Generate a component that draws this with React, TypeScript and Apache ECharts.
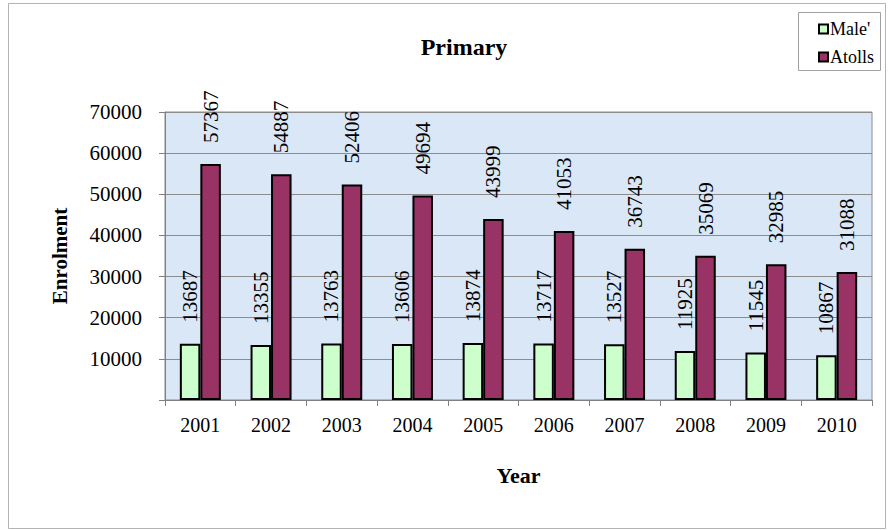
import React, { useEffect, useRef } from "react";
import * as echarts from "echarts";

const years = ["2001", "2002", "2003", "2004", "2005", "2006", "2007", "2008", "2009", "2010"];
const maleValues = [13687, 13355, 13763, 13606, 13874, 13717, 13527, 11925, 11545, 10867];
const atollsValues = [57367, 54887, 52406, 49694, 43999, 41053, 36743, 35069, 32985, 31088];
const seriesNames = ["Male'", "Atolls"];

const FONT = "Liberation Serif";

export default function App() {
  const ref = useRef<HTMLDivElement>(null);
  useEffect(() => {
    document.body.style.margin = "0";
    const chart = echarts.init(ref.current!, undefined, { renderer: "svg" });
    const label = {
      show: true,
      position: "top" as const,
      rotate: 90,
      align: "left" as const,
      verticalAlign: "middle" as const,
      distance: 21,
      fontFamily: FONT,
      fontSize: 21,
      color: "#000",
    };
    chart.setOption({
      animation: false,
      backgroundColor: "#fff",
      textStyle: { fontFamily: FONT },
      title: {
        text: "Primary",
        left: 459,
        top: 30,
        textAlign: "center",
        textStyle: { fontFamily: FONT, fontSize: 24, fontWeight: "bold", color: "#000" },
      },
      graphic: [
        {
          type: "rect",
          shape: { x: 8.5, y: 3.5, width: 877, height: 525 },
          style: { fill: "none", stroke: "#b4b4b4", lineWidth: 1 },
          silent: true,
          z: -10,
        },
        {
          type: "rect",
          shape: { x: 798.5, y: 12.5, width: 82, height: 58 },
          style: { fill: "#fff", stroke: "#a0a0a0", lineWidth: 1 },
          silent: true,
          z: 0,
        },
      ],
      legend: {
        orient: "vertical",
        left: 813,
        top: 15,
        itemWidth: 9,
        itemHeight: 9,
        itemGap: 10,
        icon: "rect",
        data: seriesNames,
        textStyle: {
          fontFamily: FONT,
          fontSize: 18,
          color: "#000",
          padding: [0, 0, 0, -3],
        },
        z: 5,
      },
      grid: {
        left: 165,
        right: 16,
        top: 112,
        bottom: 130,
        show: true,
        backgroundColor: "#dae7f6",
        borderColor: "#8c8c8c",
        borderWidth: 1,
      },
      xAxis: {
        type: "category",
        data: years,
        name: "Year",
        nameLocation: "middle",
        nameGap: 64,
        nameTextStyle: { fontFamily: FONT, fontSize: 22, fontWeight: "bold", color: "#000" },
        axisLine: { lineStyle: { color: "#808080", width: 1 } },
        axisTick: { show: true, length: 6, lineStyle: { color: "#808080" } },
        axisLabel: { fontFamily: FONT, fontSize: 20, color: "#000", margin: 15 },
      },
      yAxis: {
        type: "value",
        min: 0,
        max: 70000,
        interval: 10000,
        name: "Enrolment",
        nameLocation: "middle",
        nameGap: 95,
        nameTextStyle: { fontFamily: FONT, fontSize: 21, fontWeight: "bold", color: "#000" },
        axisLine: { show: true, lineStyle: { color: "#808080", width: 1 } },
        axisTick: { show: true, length: 6, lineStyle: { color: "#808080" } },
        axisLabel: {
          fontFamily: FONT,
          fontSize: 21,
          color: "#000",
          margin: 23,
          formatter: (v: number) => (v === 0 ? "" : String(v)),
        },
        splitLine: { show: true, lineStyle: { color: "#8c8c8c", width: 1 } },
      },
      series: [
        {
          name: seriesNames[0],
          type: "bar",
          data: maleValues,
          barGap: "0%",
          barCategoryGap: "42%",
          itemStyle: { color: "#ccffcc", borderColor: "#000", borderWidth: 2 },
          label,
        },
        {
          name: seriesNames[1],
          type: "bar",
          data: atollsValues,
          barGap: "0%",
          barCategoryGap: "42%",
          itemStyle: { color: "#993366", borderColor: "#000", borderWidth: 2 },
          label,
        },
      ],
    });
    return () => chart.dispose();
  }, []);
  return <div ref={ref} style={{ width: 888, height: 530 }} />;
}
